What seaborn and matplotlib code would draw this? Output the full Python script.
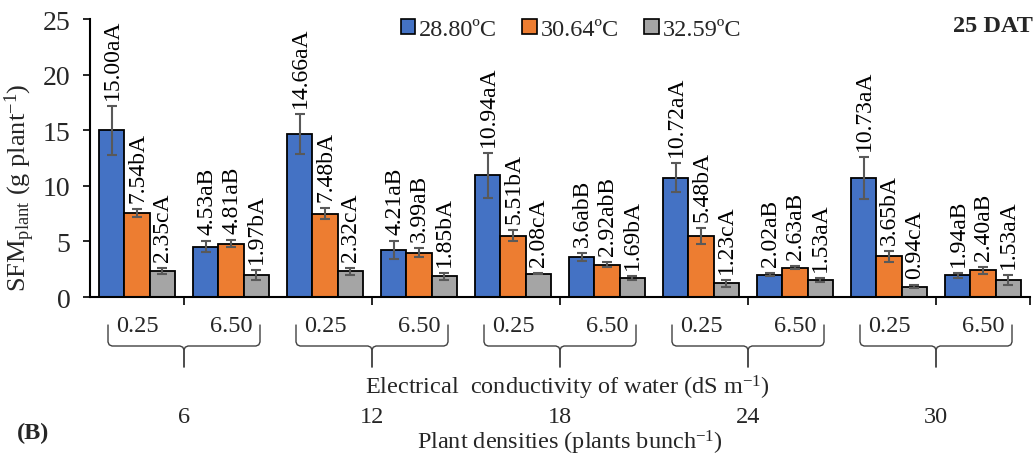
import numpy as np
import pandas as pd
import matplotlib
matplotlib.use("Agg")
import matplotlib.pyplot as plt
import matplotlib.transforms as mtransforms
import seaborn as sns

# ---------------- data ----------------
densities = ["6", "12", "18", "24", "30"]
ec_levels = ["0.25", "6.50"]
temps = ["28.80ºC", "30.64ºC", "32.59ºC"]

v28 = [15.00, 4.53, 14.66, 4.21, 10.94, 3.60, 10.72, 2.02, 10.73, 1.94]
v30 = [7.54, 4.81, 7.48, 3.99, 5.51, 2.92, 5.48, 2.63, 3.65, 2.40]
v32 = [2.35, 1.97, 2.32, 1.85, 2.08, 1.69, 1.23, 1.53, 0.94, 1.53]

e28 = [2.2, 0.5, 1.8, 0.8, 2.0, 0.35, 1.3, 0.15, 1.9, 0.25]
e30 = [0.37, 0.35, 0.5, 0.4, 0.5, 0.2, 0.7, 0.15, 0.5, 0.3]
e32 = [0.3, 0.45, 0.3, 0.3, 0.05, 0.2, 0.3, 0.15, 0.15, 0.45]

l28 = ["15.00aA", "4.53aB", "14.66aA", "4.21aB", "10.94aA", "3.6abB", "10.72aA", "2.02aB", "10.73aA", "1.94aB"]
l30 = ["7.54bA", "4.81aB", "7.48bA", "3.99aB", "5.51bA", "2.92abB", "5.48bA", "2.63aB", "3.65bA", "2.40aB"]
l32 = ["2.35cA", "1.97bA", "2.32cA", "1.85bA", "2.08cA", "1.69bA", "1.23cA", "1.53aA", "0.94cA", "1.53aA"]

colors = ["#4472C4", "#ED7D31", "#A5A5A5"]

# ---------------- table ----------------
cats = [f"{d}|{e}" for d in densities for e in ec_levels]
values = [v28, v30, v32]
errors = [e28, e30, e32]
labels = [l28, l30, l32]
rows = []
for t, vals in zip(temps, values):
    for c, v in zip(cats, vals):
        rows.append({"cat": c, "temp": t, "value": v})
df = pd.DataFrame(rows)

# ---------------- style ----------------
sns.set_theme(style="ticks")
plt.rcParams["font.family"] = ["Liberation Serif", "DejaVu Serif"]
plt.rcParams["mathtext.fontset"] = "custom"
plt.rcParams["mathtext.rm"] = "Liberation Serif"
plt.rcParams["mathtext.it"] = "Liberation Serif:italic"
plt.rcParams["mathtext.bf"] = "Liberation Serif:bold"

fig = plt.figure(figsize=(10.35, 4.6), dpi=100)
ax = fig.add_axes([90 / 1035, 1 - 298 / 460, 940 / 1035, 278 / 460])

sns.barplot(data=df, x="cat", y="value", hue="temp", order=cats, hue_order=temps,
            palette=colors, saturation=1, edgecolor="black", linewidth=1.3,
            errorbar=None, width=0.8, ax=ax)

# error bars + labels
bar_conts = list(ax.containers)
for i, cont in enumerate(bar_conts):
    xs = [b.get_x() + b.get_width() / 2 for b in cont]
    hs = [b.get_height() for b in cont]
    ax.errorbar(xs, hs, yerr=errors[i], fmt="none", ecolor="#595959",
                elinewidth=1.5, capsize=3.5, capthick=1.5, zorder=5)
    for x, h, e, lab in zip(xs, hs, errors[i], labels[i]):
        ax.annotate(lab, (x, h + e), xytext=(0.5, 5), textcoords="offset points",
                    rotation=90, ha="center", va="bottom", fontsize=17,
                    color="black", zorder=6)

ax.set_xlim(-0.5, len(cats) - 0.5)
ax.set_ylim(0, 25)
ax.set_yticks([0, 5, 10, 15, 20, 25])
ax.tick_params(axis="y", labelsize=20, direction="out", length=5, width=1.2,
               color="black", pad=9)
ax.set_xticks([0.5, 2.5, 4.5, 6.5, 8.5, 9.5])
ax.set_xticklabels([])
ax.tick_params(axis="x", direction="out", length=6, width=1.2, color="black")
ax.set_xlabel("")
ax.set_ylabel(r"SFM$_{\mathrm{plant}}$ (g plant$^{\mathrm{-1}}$)", fontsize=19)
ax.yaxis.set_label_coords(-53 / 940, (298 - 188) / 278)
for s in ["top", "right"]:
    ax.spines[s].set_visible(False)
for s in ["left", "bottom"]:
    ax.spines[s].set_linewidth(1.5)
    ax.spines[s].set_color("black")

# legend
handles = [plt.Rectangle((0, 0), 1, 1, facecolor=c, edgecolor="black", linewidth=1.2) for c in colors]
ax.legend(handles, temps, loc="center", bbox_to_anchor=(0.5115, 0.962), ncol=3,
          frameon=False, fontsize=17.5, handlelength=0.6, handleheight=0.6,
          handletextpad=0.15, columnspacing=1.05, borderaxespad=0)

# corner labels
ax.text(1.003, 0.975, "25 DAT", transform=ax.transAxes, ha="right", va="center",
        fontsize=17.5, fontweight="bold")
fig.text(17 / 1035, 1 - 433 / 460, "(B)", ha="left", va="center", fontsize=17.5, fontweight="bold")

# multi-level category axis
bt = mtransforms.blended_transform_factory(ax.transData, fig.transFigure)
ppx = 94.0  # pixels per category (approx, for brace geometry)
for k, d in enumerate(densities):
    for j, e in enumerate(ec_levels):
        ax.text(2 * k + j, 1 - 327 / 460, e, transform=bt, ha="center", va="center",
                fontsize=17.5, clip_on=False)
    cx = 2 * k + 0.5
    left = [(-76, 326), (-76, 343), (-74.8, 345.8), (-72, 347), (-4, 347), (-1.2, 348.2), (0, 351), (0, 368)]
    for sgn in (1, -1):
        xs = [cx + sgn * p[0] / ppx for p in left]
        ys = [1 - p[1] / 460 for p in left]
        ax.plot(xs, ys, transform=bt, color="#404040", lw=1.0, clip_on=False)
    ax.text(cx, 1 - 418 / 460, d, transform=bt, ha="center", va="center",
            fontsize=17.5, clip_on=False)

fig.text(567 / 1035, 1 - 388 / 460, r"Electrical  conductivity of water (dS m$^{\mathrm{-1}}$)",
         ha="center", va="center", fontsize=17.5)
fig.text(570 / 1035, 1 - 443 / 460, r"Plant densities (plants bunch$^{\mathrm{-1}}$)",
         ha="center", va="center", fontsize=17.5)

fig.savefig("out.png", dpi=100)
